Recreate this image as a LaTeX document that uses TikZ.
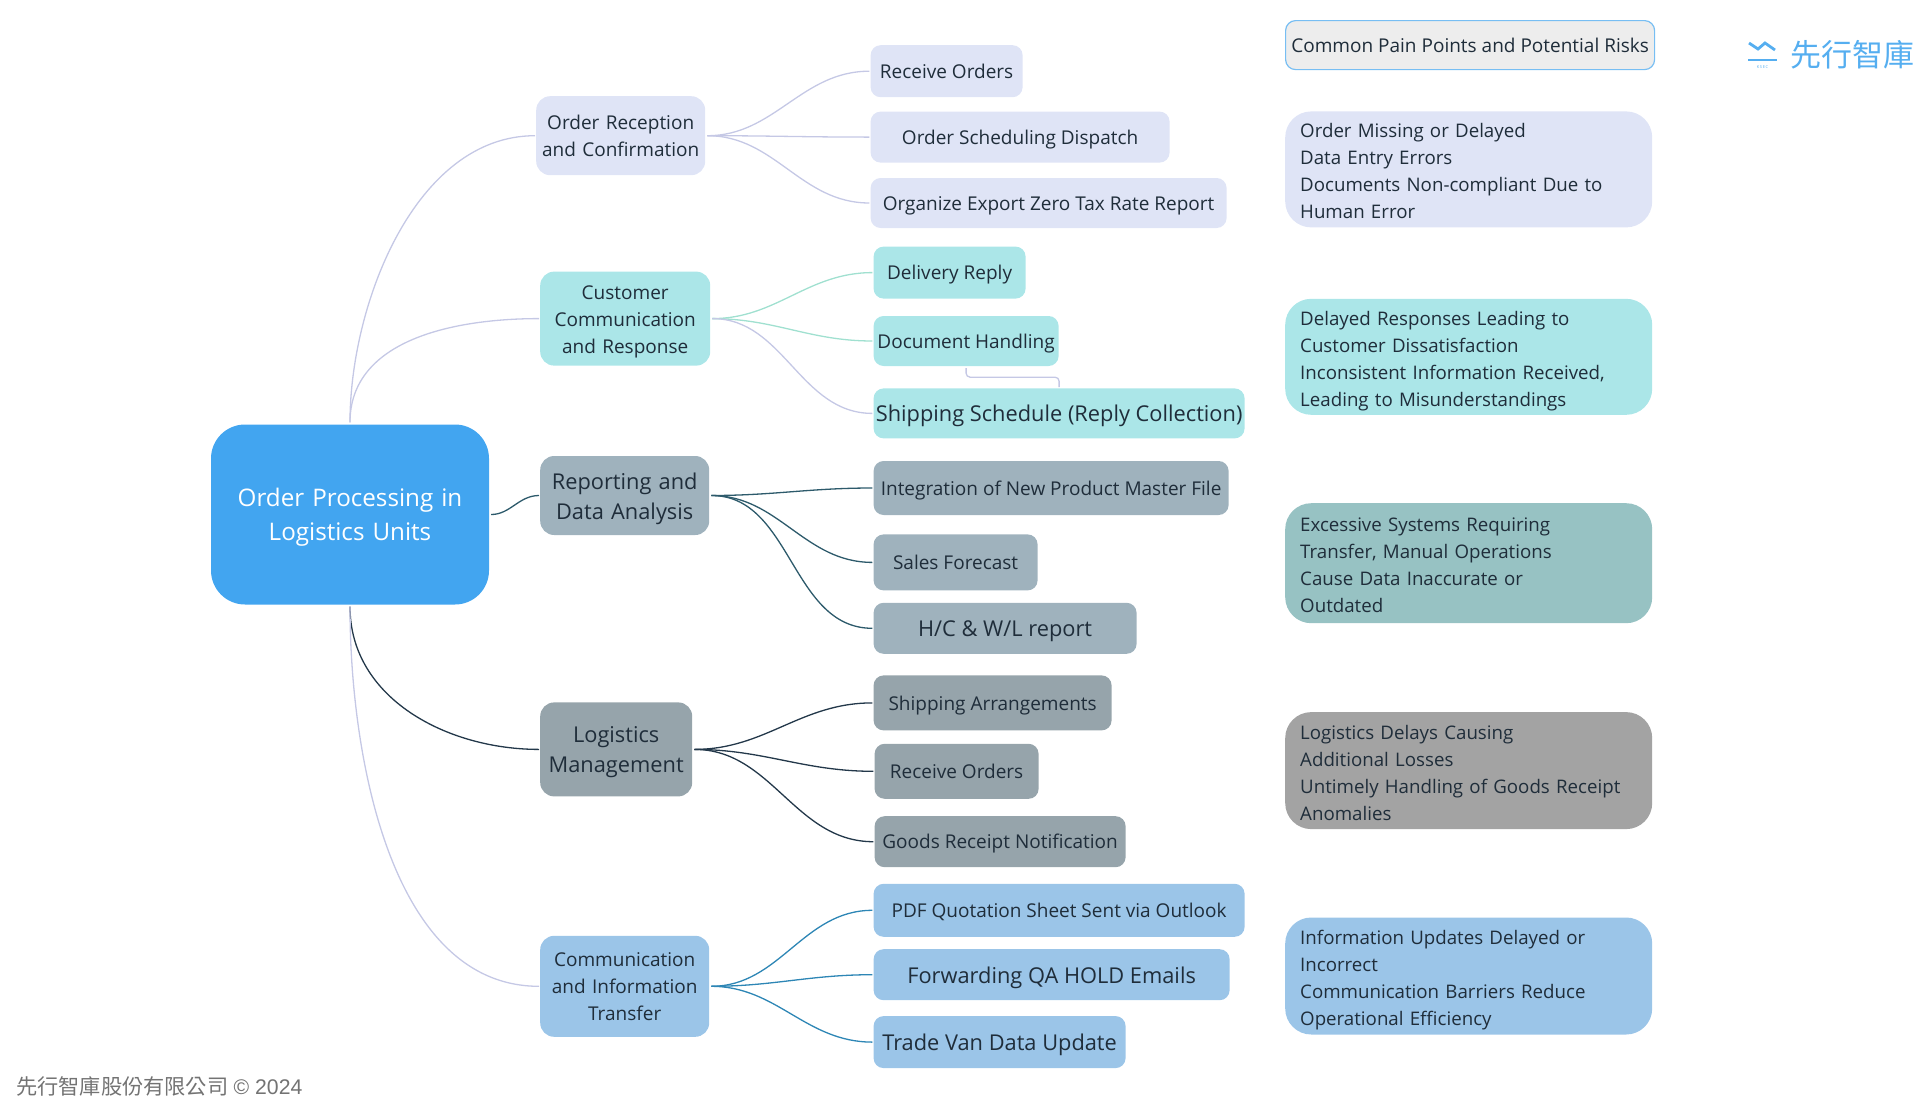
\documentclass[tikz,border=0pt]{standalone}
\usepackage{fontspec}
\usepackage{xcolor}
\setmainfont{Open Sans}
\newfontfamily\cjk{Noto Sans CJK TC}
\newfontfamily\footfont{Liberation Sans}
\usetikzlibrary{positioning}

\definecolor{rootblue}{HTML}{42A5F0}
\definecolor{lavfill}{HTML}{DFE4F6}
\definecolor{tealfill}{HTML}{ABE6E8}
\definecolor{slatefill}{HTML}{9FB2BD}
\definecolor{grayfill}{HTML}{96A4AB}
\definecolor{skyfill}{HTML}{9BC5E8}
\definecolor{riskteal}{HTML}{97C2C3}
\definecolor{riskgray}{HTML}{A3A3A3}
\definecolor{inkdark}{HTML}{1F2D3A}
\definecolor{lavline}{HTML}{C5C8E5}
\definecolor{mintline}{HTML}{A0E0D0}
\definecolor{repline}{HTML}{2D5A6B}
\definecolor{logline}{HTML}{23384A}
\definecolor{comline}{HTML}{2D86B5}
\definecolor{logoblue}{HTML}{55AEF0}

\begin{document}
\begin{tikzpicture}[
  x=1pt, y=-1pt,
  node distance=20pt,
  every node/.style={text=inkdark, inner sep=0pt, align=center,
                     font=\fontsize{19}{27}\selectfont},
  dims/.style 2 args={minimum width=#1pt, minimum height=#2pt},
  big/.style={font=\fontsize{21.8}{30}\selectfont},
  struts/.style={execute at begin node={\rule{0pt}{#1pt}}, execute at end node=\strut},
  topic/.style={rounded corners=14pt, struts=23, text width=160pt},
  leaf/.style={rounded corners=10pt, struts=22.3},
  bigleaf/.style={leaf, big, struts=26},
  risk/.style={rounded corners=26pt, align=left, inner xsep=15pt, struts=26,
               minimum width=367pt, text width=337pt,
               font=\fontsize{18.7}{27}\selectfont},
  lnk/.style={line width=1.3pt, shorten <=2pt, shorten >=1pt},
]
\useasboundingbox (0,0) rectangle (1920,1114);

% Root
\node[fill=rootblue, rounded corners=34pt, dims={278}{180}, text=white, struts=28, text width=260pt,
      font=\fontsize{24.2}{34}\selectfont] (root) at (350,514.5)
  {Order Processing in\\Logistics Units};

% Topics (second column)
\node[topic, fill=lavfill, dims={169}{79}, anchor=north west] (ord) at (536,96)
  {Order Reception\\and Confirmation};
\node[topic, fill=tealfill, dims={170}{94}, below=96pt of ord.south west, anchor=north west, xshift=4pt] (cust)
  {Customer\\Communication\\and Response};
\node[topic, fill=slatefill, dims={169}{79}, below=90pt of cust.south west, anchor=north west, big, struts=26] (rep)
  {Reporting and\\Data Analysis};
\node[topic, fill=grayfill, dims={152}{94}, below=167pt of rep.south west, anchor=north west, big, struts=26, text width=140pt] (logi)
  {Logistics\\Management};
\node[topic, fill=skyfill, dims={169}{101}, below=139pt of logi.south west, anchor=north west] (com)
  {Communication\\and Information\\Transfer};

% Leaves of Order Reception
\node[leaf, fill=lavfill, dims={152}{52}, right=165pt of ord.north east, anchor=north west, yshift=51pt] (rcv) {Receive Orders};
\node[leaf, fill=lavfill, dims={299}{51}, below=14pt of rcv.south west, anchor=north west] (sched) {Order Scheduling Dispatch};
\node[leaf, fill=lavfill, dims={356}{50}, below=15pt of sched.south west, anchor=north west] (zero) {Organize Export Zero Tax Rate Report};

% Leaves of Customer Communication
\node[leaf, fill=tealfill, dims={152}{52}, right=163pt of cust.north east, anchor=north west, yshift=25pt] (dly) {Delivery Reply};
\node[leaf, fill=tealfill, dims={185}{50}, below=17pt of dly.south west, anchor=north west] (doc) {Document Handling};
\node[bigleaf, fill=tealfill, dims={371}{50}, below=22pt of doc.south west, anchor=north west] (ship) {Shipping Schedule (Reply Collection)};

% Leaves of Reporting
\node[leaf, fill=slatefill, dims={355}{54}, right=164pt of rep.north east, anchor=north west, yshift=-5pt] (intg) {Integration of New Product Master File};
\node[leaf, fill=slatefill, dims={164}{56}, below=19pt of intg.south west, anchor=north west] (sales) {Sales Forecast};
\node[bigleaf, fill=slatefill, dims={263}{51}, below=12pt of sales.south west, anchor=north west] (hcwl) {H/C \& W/L report};

% Leaves of Logistics
\node[leaf, fill=grayfill, dims={238}{55}, right=181pt of logi.north east, anchor=north west, yshift=27pt] (arng) {Shipping Arrangements};
\node[leaf, fill=grayfill, dims={164}{55}, below=13pt of arng.south west, anchor=north west, xshift=1pt] (rcvb) {Receive Orders};
\node[leaf, fill=grayfill, dims={251}{51}, below=17pt of rcvb.south west, anchor=north west] (goods) {Goods Receipt Notification};

% Leaves of Communication
\node[leaf, fill=skyfill, dims={371}{53}, right=164pt of com.north east, anchor=north west, yshift=52pt] (pdf) {PDF Quotation Sheet Sent via Outlook};
\node[bigleaf, fill=skyfill, dims={356}{51}, below=12pt of pdf.south west, anchor=north west] (fwd) {Forwarding QA HOLD Emails};
\node[bigleaf, fill=skyfill, dims={252}{52}, below=15.5pt of fwd.south west, anchor=north west] (trade) {Trade Van Data Update};

% Risk column
\node[draw=logoblue!80, line width=1.2pt, fill=black!7, rounded corners=10pt, struts=23, dims={369}{49}, anchor=north west] (head) at (1285,20)
  {Common Pain Points and Potential Risks};
\node[risk, fill=lavfill, minimum height=116pt, below=41pt of head.south west, anchor=north west] (r1)
  {Order Missing or Delayed\\Data Entry Errors\\Documents Non-compliant Due to\\Human Error};
\node[risk, fill=tealfill, minimum height=116pt, below=71pt of r1.south west, anchor=north west] (r2)
  {Delayed Responses Leading to\\Customer Dissatisfaction\\Inconsistent Information Received,\\Leading to Misunderstandings};
\node[risk, fill=riskteal, minimum height=120pt, below=88pt of r2.south west, anchor=north west] (r3)
  {Excessive Systems Requiring\\Transfer, Manual Operations\\Cause Data Inaccurate or\\Outdated};
\node[risk, fill=riskgray, minimum height=117pt, below=88.5pt of r3.south west, anchor=north west] (r4)
  {Logistics Delays Causing\\Additional Losses\\Untimely Handling of Goods Receipt\\Anomalies};
\node[risk, fill=skyfill, minimum height=117pt, below=88pt of r4.south west, anchor=north west] (r5)
  {Information Updates Delayed or\\Incorrect\\Communication Barriers Reduce\\Operational Efficiency};

% Root to topics
\draw[lnk, lavline] (root.north) to[out=90, in=180, looseness=0.9] (ord.west);
\draw[lnk, lavline] (root.north) to[out=90, in=180] (cust.west);
\draw[lnk, repline] (root.east) to[out=0, in=180] (rep.west);
\draw[lnk, logline] (root.south) to[out=-90, in=180] (logi.west);
\draw[lnk, lavline] (root.south) to[out=-90, in=180, looseness=0.9] (com.west);

% Topics to leaves
\foreach \kid in {rcv, sched, zero}
  \draw[lnk, lavline] (ord.east) to[out=0, in=180] (\kid.west);
\foreach \kid in {dly, doc}
  \draw[lnk, mintline] (cust.east) to[out=0, in=180] (\kid.west);
\draw[lnk, lavline] (cust.east) to[out=0, in=180] (ship.west);
\foreach \kid in {intg, sales, hcwl}
  \draw[lnk, repline] (rep.east) to[out=0, in=180] (\kid.west);
\foreach \kid in {arng, rcvb, goods}
  \draw[lnk, logline] (logi.east) to[out=0, in=180] (\kid.west);
\foreach \kid in {pdf, fwd, trade}
  \draw[lnk, comline] (com.east) to[out=0, in=180] (\kid.west);

% Bracket between leaves
\draw[lnk, lavline, rounded corners=4pt] (doc.south) -- ++(0,11) -| (ship.north);

% Logo
\draw[line width=2.8pt, logoblue] (1749,43) -- (1758,49) -- (1765,43) -- (1775,50);
\draw[line width=2.4pt, logoblue] (1748,60) -- (1777,60);
\node[text=logoblue, font=\fontsize{4}{4}\selectfont] (ksec) at (1762.5,67) {K\,S\,E\,C};
\node[text=logoblue, font=\cjk\fontsize{31}{31}\selectfont, anchor=west] (brand) at (1790,55) {先行智庫};

% Footer
\node[text=black!55, font=\fontsize{21.2}{24}\selectfont, anchor=west] (foot) at (16,1086)
  {{\cjk 先行智庫股份有限公司}\hspace{5.5pt}{\footfont © 2024}};
\end{tikzpicture}
\end{document}
